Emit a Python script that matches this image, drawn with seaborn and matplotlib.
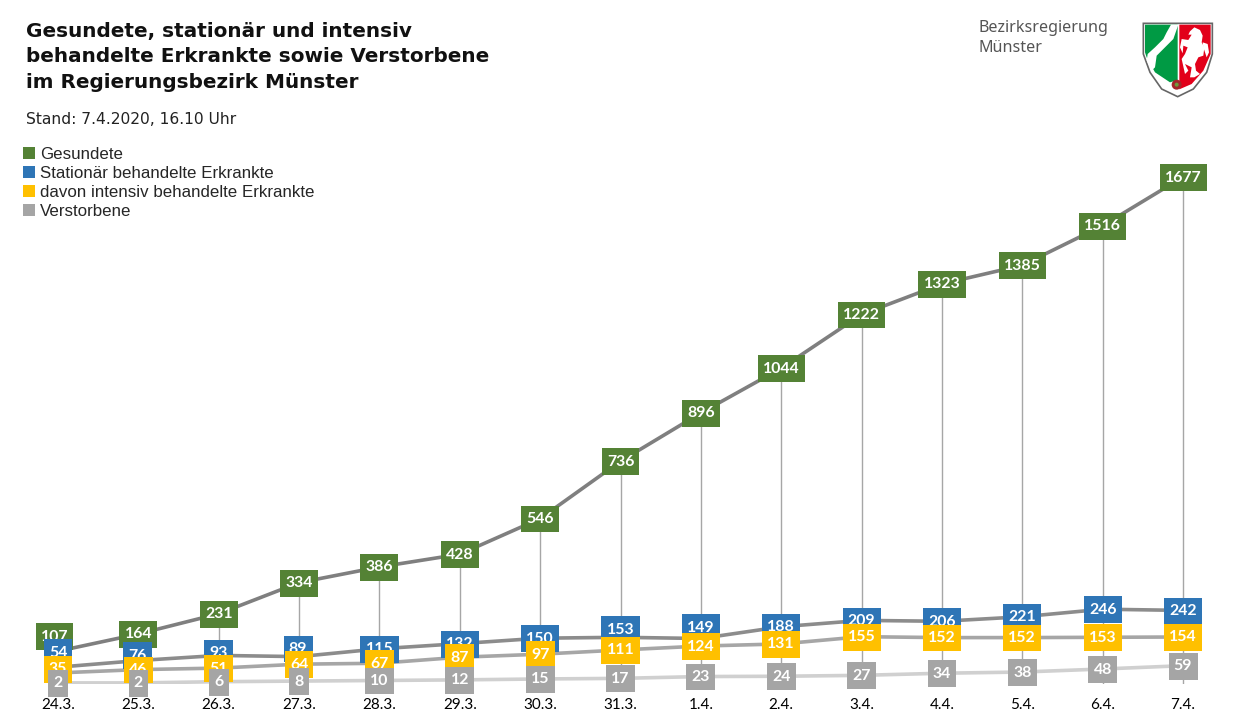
import matplotlib
matplotlib.use('Agg')
import matplotlib.pyplot as plt
from matplotlib.patches import Polygon, Circle, Patch
import seaborn as sns
import pandas as pd

# values
dates = ['24.3.', '25.3.', '26.3.', '27.3.', '28.3.', '29.3.', '30.3.', '31.3.', '1.4.', '2.4.', '3.4.', '4.4.', '5.4.', '6.4.', '7.4.']
gesundete = [107, 164, 231, 334, 386, 428, 546, 736, 896, 1044, 1222, 1323, 1385, 1516, 1677]
stationaer = [54, 76, 93, 89, 115, 132, 150, 153, 149, 188, 209, 206, 221, 246, 242]
intensiv = [35, 46, 51, 64, 67, 87, 97, 111, 124, 131, 155, 152, 152, 153, 154]
verstorben = [2, 2, 6, 8, 10, 12, 15, 17, 23, 24, 27, 34, 38, 48, 59]

series_names = ['Gesundete', 'Stationär behandelte Erkrankte', 'davon intensiv behandelte Erkrankte', 'Verstorbene']
series_values = [gesundete, stationaer, intensiv, verstorben]
box_colors = ['#548235', '#2E75B6', '#FFC000', '#A5A5A5']
line_colors = ['#7F7F7F', '#8C8C8C', '#A6A6A6', '#D0D0D0']

# labels that were moved by hand in the original, (series, date index): (dx, dy) in pixels
label_nudges = {(0, 0): (-3.5, 15), (1, 0): (0, 15), (1, 1): (-1, 5.5), (1, 2): (0, 3),
                (1, 3): (-1, 8), (1, 7): (0, 8), (1, 8): (0, 11.5), (2, 0): (0, 4)}

W, H = 1243, 728
frames = []
for name, vals in zip(series_names, series_values):
    frames.append(pd.DataFrame({'Datum': dates, 'Anzahl': vals, 'Reihe': name}))
df = pd.concat(frames)

sns.set_theme(style='white')
fig = plt.figure(figsize=(W / 100, H / 100), dpi=100, facecolor='white')

# plot area, category step is 80.36 px and one case is 0.302 px
step = 80.36
left = 58 - step / 2
base = 683.5
ax = fig.add_axes([left / W, (H - base) / H, 15 * step / W, base / H])
sns.lineplot(data=df, x='Datum', y='Anzahl', hue='Reihe', hue_order=series_names,
             palette=line_colors, linewidth=2.6, legend=False, sort=False, ax=ax, zorder=3)
ax.set_ylim(0, base / 0.302)
ax.set_xlim(-0.5, 14.5)
ax.vlines(range(len(dates)), 0, gesundete, color='#A6A6A6', linewidth=1, zorder=2)
ax.set_xlabel('')
ax.set_ylabel('')
ax.set_yticks([])
ax.tick_params(axis='x', length=0, pad=10.5)
ax.set_xticks(range(len(dates)))
ax.set_xticklabels(dates, fontsize=11, fontfamily='Lato', color='black')
sns.despine(ax=ax, left=True, bottom=True)
ax.patch.set_alpha(0)

# value boxes, later series lie on top of the earlier ones
for s, vals in enumerate(series_values):
    for i, v in enumerate(vals):
        dx, dy = label_nudges.get((s, i), (0, 0))
        ax.annotate(str(v), (i, v), xytext=(dx * 0.72, (dy + 1) * 0.72), textcoords='offset points',
                    ha='center', va='center_baseline', fontsize=11.4, fontfamily='Lato', fontweight='bold',
                    color='white', zorder=5 + s, annotation_clip=False,
                    bbox=dict(boxstyle='square,pad=0.33', mutation_aspect=1.22, facecolor=box_colors[s], edgecolor='none'))

# title block
title_lines = ['Gesundete, stationär und intensiv', 'behandelte Erkrankte sowie Verstorbene', 'im Regierungsbezirk Münster']
for line, y in zip(title_lines, [31.5, 56.5, 82.5]):
    fig.text(26 / W, 1 - y / H, line, fontsize=14.4, fontweight='bold', family='DejaVu Sans', va='center', color='#111111')
fig.text(26 / W, 1 - 119 / H, 'Stand: 7.4.2020, 16.10 Uhr', fontsize=11.2, family='DejaVu Sans', va='center', color='#222222')

handles = [Patch(facecolor=c, edgecolor='none', label=n) for c, n in zip(box_colors, series_names)]
fig.legend(handles=handles, loc='upper left', bbox_to_anchor=(23 / W, 1 - 147 / H), frameon=False, borderpad=0,
           borderaxespad=0, handlelength=0.72, handleheight=0.72, handletextpad=0.3, labelspacing=0.23,
           prop={'family': 'Liberation Sans', 'size': 12.2})

# Bezirksregierung logo
fig.text(978 / W, 1 - 28.5 / H, 'Bezirksregierung', fontsize=11.6, family='Noto Sans', va='center', color='#555555')
fig.text(978 / W, 1 - 48 / H, 'Münster', fontsize=11.6, family='Noto Sans', va='center', color='#555555')

logo = fig.add_axes([1135 / W, 1 - 102 / H, 85 / W, 88 / H])
logo.set_xlim(0, 255)
logo.set_ylim(264, 0)
logo.axis('off')
outline = [(25, 28), (232, 28), (232, 120), (215, 175), (175, 225), (128, 248), (80, 225), (45, 175), (25, 120)]
green = [(30, 32), (128, 32), (128, 198), (105, 205), (60, 175), (35, 130), (30, 115)]
red = [(133, 32), (227, 32), (227, 120), (205, 170), (170, 210), (133, 226)]
river = [(108, 32), (130, 32), (115, 75), (85, 105), (65, 125), (60, 160), (50, 170), (35, 140), (38, 120), (60, 100), (85, 75), (95, 55)]
horse = [(165, 52), (178, 40), (195, 48), (203, 65), (200, 85), (208, 100), (205, 125), (190, 130), (180, 150), (183, 170),
         (195, 180), (178, 190), (165, 190), (170, 160), (150, 150), (160, 170), (150, 180), (140, 135), (150, 120), (158, 100),
         (145, 95), (143, 118), (135, 100), (140, 75), (160, 78), (170, 62), (160, 62)]
tail = [(203, 85), (218, 90), (222, 115), (215, 130), (210, 115), (205, 100)]
logo.add_patch(Polygon(outline, closed=True, facecolor='white', edgecolor='#666666', linewidth=1.2))
logo.add_patch(Polygon(green, closed=True, facecolor='#009A44', edgecolor='none'))
logo.add_patch(Polygon(red, closed=True, facecolor='#E2001A', edgecolor='none'))
logo.add_patch(Polygon(river, closed=True, facecolor='white', edgecolor='none'))
logo.add_patch(Polygon(horse, closed=True, facecolor='white', edgecolor='none'))
logo.add_patch(Polygon(tail, closed=True, facecolor='white', edgecolor='none'))
logo.add_patch(Circle((125, 212), 15, facecolor='#A5262A', edgecolor='none'))
logo.add_patch(Circle((125, 212), 6, facecolor='#6E9B3C', edgecolor='none'))

fig.savefig('out.png', dpi=100)
